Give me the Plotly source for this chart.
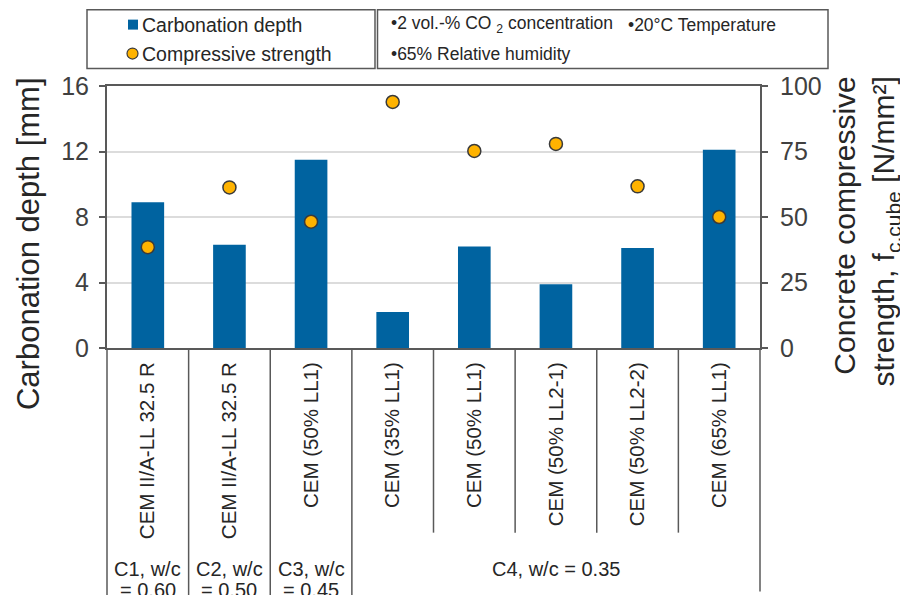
import plotly.graph_objects as go

# ---- data -------------------------------------------------------------
cement_labels = [
    "CEM II/A-LL 32.5 R", "CEM II/A-LL 32.5 R", "CEM (50% LL1)", "CEM (35% LL1)",
    "CEM (50% LL1)", "CEM (50% LL2-1)", "CEM (50% LL2-2)", "CEM (65% LL1)",
]
carbonation_depth = [8.9, 6.3, 11.5, 2.2, 6.2, 3.9, 6.1, 12.1]      # mm
compressive_strength = [38.5, 61.3, 48.2, 93.9, 75.2, 77.9, 61.7, 50.0]  # N/mm2
group_line1 = ["C1, w/c", "C2, w/c", "C3, w/c", "C4, w/c = 0.35"]
group_line2 = ["= 0.60", "= 0.50", "= 0.45", ""]
group_sizes = [1, 1, 1, 5]
conditions = ["•2 vol.-% CO <sub>2</sub> concentration", "•20°C Temperature", "•65% Relative humidity"]

# ---- layout helpers ---------------------------------------------------
# page body adds an 8px margin, so screen coords are shifted by OFF
W, H = 908, 595
OFF = 8
L, R, T, B = 107, 760, 85.5, 348   # plot area in screen pixels
FONT = "Liberation Sans, Arial, sans-serif"
TXT = "#262626"
LINE = "#595959"
BLUE = "#0063A0"
GOLD = "#FFB300"


def px(x):
    return (x - L) / (R - L)


def py(y):
    return (B - y) / (B - T)


def note(text, x, y, size, xanchor="left", **kw):
    return dict(x=px(x), y=py(y), xref="paper", yref="paper", xanchor=xanchor,
                yanchor=kw.pop("yanchor", "middle"), text=text, showarrow=False,
                font=dict(size=size, color=TXT, family=FONT), **kw)


n = len(cement_labels)
xs = list(range(n))

fig = go.Figure()
fig.add_trace(go.Bar(
    x=xs, y=carbonation_depth, name="Carbonation depth",
    marker=dict(color=BLUE, line=dict(width=0)), width=0.4,
))
fig.add_trace(go.Scatter(
    x=xs, y=compressive_strength, name="Compressive strength", yaxis="y2",
    mode="markers",
    marker=dict(size=13, color=GOLD, line=dict(color="#3a3a3a", width=1.5)),
))

shapes = []
annotations = []

# separators below the x axis
bounds = []
start = 0
for size in group_sizes:
    for k in range(size):
        bounds.append((start + k, k == 0))
    start += size
bounds.append((n, True))
for b, is_group in bounds:
    xp = b / n
    if b == n:
        y_end = 592
    else:
        y_end = 600 if is_group else 533
    shapes.append(dict(type="line", xref="paper", yref="paper", x0=xp, x1=xp,
                       y0=0, y1=py(y_end), line=dict(color=LINE, width=1.5)))

# group labels
start = 0
for l1, l2, size in zip(group_line1, group_line2, group_sizes):
    xc = start + (size - 1) / 2
    annotations.append(dict(x=xc, xref="x", y=py(569.5), yref="paper", text=l1,
                            xanchor="center", yanchor="middle", showarrow=False,
                            font=dict(size=20, color=TXT, family=FONT)))
    if l2:
        annotations.append(dict(x=xc, xref="x", y=py(590), yref="paper", text=l2,
                                xanchor="center", yanchor="middle", showarrow=False,
                                font=dict(size=20, color=TXT, family=FONT)))
    start += size

# axis titles
annotations.append(note("Carbonation depth [mm]", 28, 75, 31, xanchor="center",
                        yanchor="top", textangle=-90))
annotations.append(note("Concrete compressive<br>strength, f<sub>c,cube</sub> [N/mm²]",
                        866, 74, 30, xanchor="center", yanchor="top",
                        textangle=-90, align="right"))

# legend box (series)
shapes.append(dict(type="rect", xref="paper", yref="paper", x0=px(87), x1=px(375),
                   y0=py(68), y1=py(9), line=dict(color=LINE, width=1.5)))
shapes.append(dict(type="rect", xref="paper", yref="paper", x0=px(128), x1=px(138),
                   y0=py(29), y1=py(19), fillcolor=BLUE, line=dict(width=0)))
shapes.append(dict(type="circle", xref="paper", yref="paper", x0=px(127), x1=px(138),
                   y0=py(58.5), y1=py(47.5), fillcolor=GOLD,
                   line=dict(color="#3a3a3a", width=1.2)))
annotations.append(note("Carbonation depth", 140, 24, 19.5))
annotations.append(note("Compressive strength", 140, 53, 19.5))

# legend box (conditions)
shapes.append(dict(type="rect", xref="paper", yref="paper", x0=px(377.5), x1=px(828),
                   y0=py(68), y1=py(9), line=dict(color=LINE, width=1.5)))
for text, x, y in zip(conditions, [389, 626, 389], [24, 24, 53]):
    annotations.append(note(text, x, y, 17.5))

fig.update_layout(
    width=W, height=H,
    margin=dict(l=L - OFF, r=W - (R - OFF), t=T - OFF, b=H - (B - OFF)),
    plot_bgcolor="white", paper_bgcolor="white",
    showlegend=False,
    font=dict(family=FONT, color=TXT),
    xaxis=dict(
        range=[-0.5, n - 0.5], tickvals=xs, ticktext=cement_labels, tickangle=-90,
        tickfont=dict(size=20.5, color=TXT), ticks="", ticklabelstandoff=4,
        showline=True, linecolor=LINE, linewidth=2, mirror=True,
        showgrid=False, zeroline=False,
    ),
    yaxis=dict(
        range=[0, 16], tickvals=[0, 4, 8, 12, 16], ticks="outside", ticklen=6,
        tickcolor=LINE, tickwidth=1.5, tickfont=dict(size=25, color="#404040"),
        ticklabelstandoff=5,
        showline=True, linecolor=LINE, linewidth=2,
        showgrid=True, gridcolor="#dcdcdc", gridwidth=1.5, zeroline=False,
    ),
    yaxis2=dict(
        range=[0, 100], tickvals=[0, 25, 50, 75, 100], overlaying="y", side="right",
        ticks="outside", ticklen=6, tickcolor=LINE, tickwidth=1.5,
        tickfont=dict(size=25, color="#404040"), ticklabelstandoff=7,
        showline=True, linecolor=LINE, linewidth=2, showgrid=False, zeroline=False,
    ),
    shapes=shapes, annotations=annotations,
)

fig.write_html("out.html")
